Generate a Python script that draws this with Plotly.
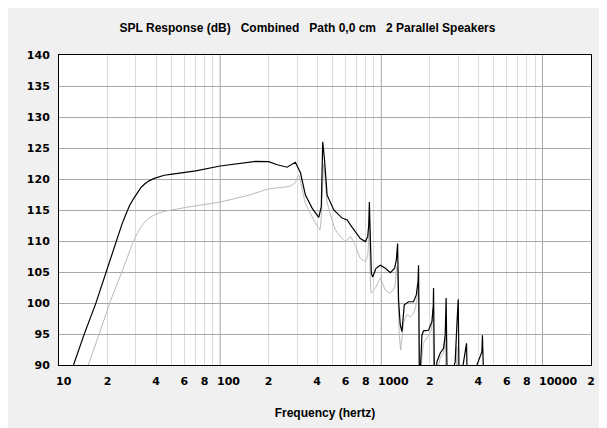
"""
SPL response chart — combined path, 2 parallel speakers
"""

import numpy as np
import plotly.graph_objects as go

# black curve (combined)
FREQ_A = [12.3, 14.4, 16.9, 19.5, 22.5, 24.5, 26, 27.5, 29.3, 30.7, 32.2, 34, 36.2, 39, 41.8, 45, 50.6,
          70.5, 100, 137, 166, 200, 226, 260, 293, 315, 338, 372, 409, 424, 433, 444, 461, 507, 571,
          614, 643, 741, 796, 823, 835, 843, 855, 867, 884, 927, 986, 1059, 1138, 1209, 1240, 1262,
          1279, 1310, 1343, 1388, 1475, 1585, 1648, 1690, 1702, 1725, 1786, 1828, 1963, 2061, 2100,
          2109, 2139, 2213, 2318, 2432, 2490, 2525, 2563, 2872, 2944, 3000, 3042, 3313, 3377, 3423,
          4207, 4240, 4300, 4400]
SPL_A = [90.0, 95.1, 99.9, 104.8, 109.9, 112.6, 114.3, 115.8, 117.0, 117.9, 118.6, 119.2, 119.7, 120.1,
         120.4, 120.6, 120.8, 121.3, 122.1, 122.6, 122.85, 122.8, 122.3, 121.9, 122.7, 121.0, 117.4,
         115.3, 113.8, 115.5, 126.0, 123.1, 117.4, 115.0, 113.7, 113.4, 112.6, 110.4, 109.9, 110.7,
         112.5, 116.3, 110.0, 104.8, 104.2, 105.6, 106.1, 105.6, 104.9, 105.6, 107.0, 109.6, 100.5,
         96.5, 95.4, 99.7, 100.2, 100.2, 101.3, 103.5, 106.1, 86.0, 94.8, 95.5, 95.6, 97.0, 99.5, 102.4,
         86.0, 90.5, 91.9, 92.7, 94.8, 100.8, 86.0, 90.5, 96.5, 100.6, 86.0, 91.6, 93.5, 86.0, 92.1,
         94.8, 86.0, 80.0]

# gray curve
FREQ_B = [15.2, 17.8, 21, 24.8, 28.6, 30.8, 33, 35, 37.2, 40.5, 43.9, 50, 64, 100, 151, 200, 267, 290,
          307, 338, 381, 415, 424, 439, 461, 519, 599, 643, 690, 741, 796, 823, 843, 867, 927, 986,
          1059, 1138, 1209, 1251, 1290, 1320, 1374, 1440, 1520, 1585, 1648, 1700, 1725, 1828, 1963,
          2040, 2090, 2130, 2318, 2432, 2500, 2540, 2900, 2944, 2990, 3400]
SPL_B = [90.0, 95.1, 100.5, 105.3, 109.6, 111.4, 112.6, 113.4, 113.9, 114.4, 114.7, 115.0, 115.5, 116.3,
         117.4, 118.4, 118.8, 119.3, 120.6, 116.1, 113.4, 111.8, 113.9, 122.5, 116.3, 111.8, 109.9,
         110.7, 109.3, 107.2, 106.7, 107.7, 113.5, 101.6, 102.6, 104.0, 102.1, 101.6, 102.6, 105.9,
         95.4, 92.4, 96.7, 98.1, 97.8, 98.3, 99.9, 103.0, 86.0, 93.5, 94.8, 95.6, 99.0, 86.0, 91.1,
         91.9, 94.8, 86.0, 88.0, 93.0, 86.0, 80.0]

# axis labels
TICK_VALS = [20, 40, 60, 80, 200, 400, 600, 800, 2000, 4000, 6000, 8000, 20000]
TICK_TEXT = ["2", "4", "6", "8", "2", "4", "6", "8", "2", "4", "6", "8", "2"]
DECADE_LABELS = [10, 100, 1000, 10000]
Y_TICKS = list(range(90, 141, 5))
DECADES = [100, 1000, 10000]
MINOR_VALS = [m * d for d in (10, 100, 1000, 10000) for m in range(2, 10) if m * d < 20000]

TITLE_FONT = "Liberation Sans, Arial, sans-serif"
TICK_FONT = "DejaVu Sans, Verdana, sans-serif"
SP = "\u00a0" * 3

fig = go.Figure()
fig.add_trace(go.Scatter(x=FREQ_B, y=SPL_B, mode="lines",
                         line=dict(color="#b8b8b8", width=1, shape="spline", smoothing=0.4),
                         showlegend=False))
fig.add_trace(go.Scatter(x=FREQ_A, y=SPL_A, mode="lines",
                         line=dict(color="#000000", width=1.2), showlegend=False))

for d in DECADES:
    fig.add_vline(x=d, line_color="#a8a8a8", line_width=1, layer="below")

# decade labels start just left of their gridline, like the original software draws them
for d in DECADE_LABELS:
    fig.add_annotation(x=np.log10(d), xref="x", y=0, yref="paper", yshift=-16,
                       text=f"<b>{d}</b>", showarrow=False, xanchor="left", xshift=-5,
                       yanchor="middle", font=dict(family=TICK_FONT, size=11, color="#000000"))

fig.update_layout(
    width=599, height=420,
    paper_bgcolor="#f0f0f0", plot_bgcolor="#ffffff",
    margin=dict(l=51, r=16, t=47, b=63, autoexpand=False),
    title=dict(text=f"<b>SPL Response (dB){SP}Combined{SP}Path 0,0 cm{SP}2 Parallel Speakers</b>",
               x=0.5, xanchor="center", y=0.952, yanchor="middle",
               font=dict(family=TITLE_FONT, size=12, color="#000000")),
    font=dict(family=TICK_FONT, size=11, color="#000000"),
)
fig.update_xaxes(
    type="log", range=[1, np.log10(20000)], automargin=False, tickangle=0,
    tickvals=TICK_VALS, ticktext=[f"<b>{t}</b>" for t in TICK_TEXT],
    showgrid=False, ticks="outside", ticklen=6, tickcolor="#f0f0f0",
    minor=dict(tickvals=MINOR_VALS, showgrid=True, gridcolor="#dcdcdc", gridwidth=1, ticks=""),
    showline=True, linecolor="#000000", linewidth=1, mirror=True,
    title=dict(text="<b>Frequency (hertz)</b>", standoff=21,
               font=dict(family=TITLE_FONT, size=12)),
    zeroline=False,
)
fig.update_yaxes(
    range=[90, 140], automargin=False,
    tickvals=Y_TICKS, ticktext=[f"<b>{v}</b>" for v in Y_TICKS],
    showgrid=True, gridcolor="#a8a8a8", gridwidth=1,
    ticks="outside", ticklen=6, tickcolor="#f0f0f0",
    showline=True, linecolor="#000000", linewidth=1, mirror=True,
    zeroline=False,
)

fig.write_html("out.html")
